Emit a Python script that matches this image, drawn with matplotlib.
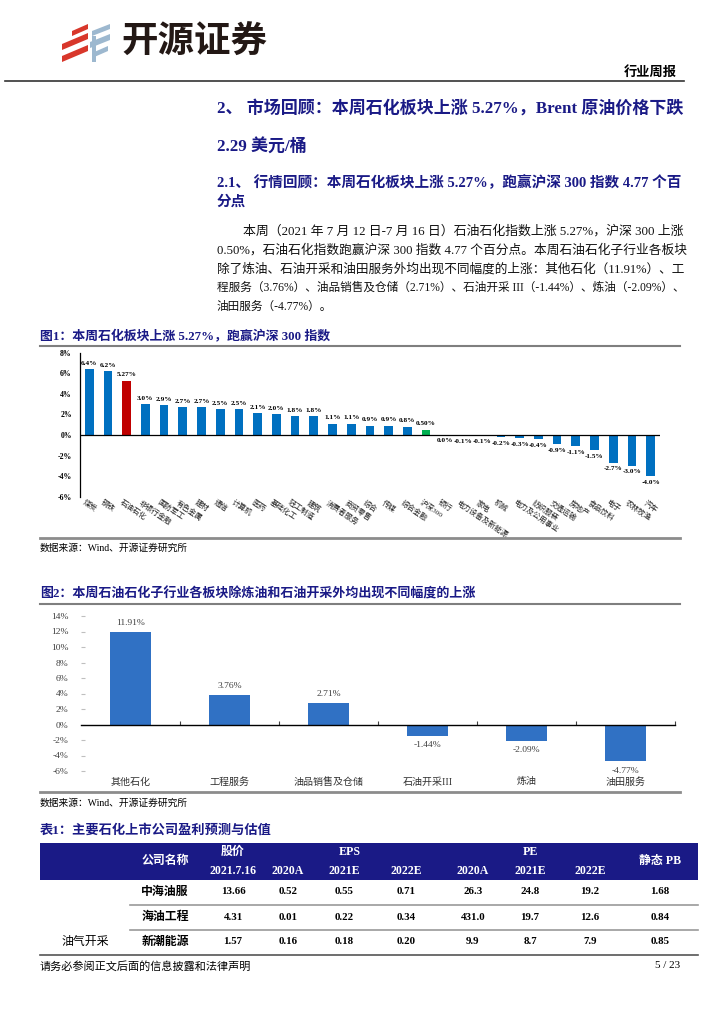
import matplotlib.pyplot as plt
from matplotlib.patches import Polygon, Rectangle

plt.rcParams['font.family'] = ['Liberation Serif', 'Noto Sans CJK SC']
plt.rcParams['axes.unicode_minus'] = False

# ---- chart 1: CITIC industries weekly change ----
ind_names = ['煤炭', '钢铁', '石油石化', '非银行金融', '国防军工', '有色金属', '建材', '通信',
             '计算机', '医药', '基础化工', '轻工制造', '建筑', '消费者服务', '商贸零售', '综合',
             '传媒', '综合金融', '沪深300', '银行', '电力设备及新能源', '家电', '机械',
             '电力及公用事业', '纺织服装', '交通运输', '房地产', '食品饮料', '电子', '农林牧渔', '汽车']
ind_chg = [6.4, 6.2, 5.27, 3.0, 2.9, 2.7, 2.7, 2.5, 2.5, 2.1, 2.0, 1.8, 1.8, 1.1, 1.1, 0.9,
           0.9, 0.8, 0.50, 0.0, -0.1, -0.1, -0.2, -0.3, -0.4, -0.9, -1.1, -1.5, -2.7, -3.0, -4.0]
ind_lbl = ['6.4%', '6.2%', '5.27%', '3.0%', '2.9%', '2.7%', '2.7%', '2.5%', '2.5%', '2.1%',
           '2.0%', '1.8%', '1.8%', '1.1%', '1.1%', '0.9%', '0.9%', '0.8%', '0.50%', '0.0%',
           '-0.1%', '-0.1%', '-0.2%', '-0.3%', '-0.4%', '-0.9%', '-1.1%', '-1.5%', '-2.7%',
           '-3.0%', '-4.0%']

# ---- chart 2: sub-sectors ----
sub_names = ['其他石化', '工程服务', '油品销售及仓储', '石油开采III', '炼油', '油田服务']
sub_chg = [11.91, 3.76, 2.71, -1.44, -2.09, -4.77]

# ---- table ----
companies = ['中海油服', '海油工程', '新潮能源']
price = ['13.66', '4.31', '1.57']
eps20 = ['0.52', '0.01', '0.16']
eps21 = ['0.55', '0.22', '0.18']
eps22 = ['0.71', '0.34', '0.20']
pe20 = ['26.3', '431.0', '9.9']
pe21 = ['24.8', '19.7', '8.7']
pe22 = ['19.2', '12.6', '7.9']
pb = ['1.68', '0.84', '0.85']

W, H = 724, 1024
NAVY = '#1a1a86'
fig = plt.figure(figsize=(W / 100, H / 100), dpi=100)
P = fig.add_axes([0, 0, 1, 1])
P.set_xlim(0, W)
P.set_ylim(H, 0)
P.axis('off')
r = fig.canvas.get_renderer()


def fit(x0, x1, y, s, size, **kw):
    t = P.text(x0, y, s, fontsize=size, ha='left', va='center', **kw)
    w = t.get_window_extent(renderer=r).width
    t.set_fontsize(size * (x1 - x0) / w)
    return t


# logo
for pts in [[(72, 31), (88, 24), (88, 29), (72, 36)],
            [(62, 44), (88, 33), (88, 39), (62, 50)],
            [(62, 56), (88, 45), (88, 51), (62, 62)]]:
    P.add_patch(Polygon(pts, closed=True, color='#d8372b', lw=0))
for pts in [[(92, 31), (110, 24), (110, 29), (92, 36)],
            [(90, 42), (110, 34), (110, 40), (90, 48)],
            [(92, 53), (108, 46), (108, 51), (92, 58)],
            [(92, 36), (96, 36), (96, 62), (92, 62)]]:
    P.add_patch(Polygon(pts, closed=True, color='#9db8cf', lw=0))
fit(121, 267, 44, '开源证券', 26, fontweight='bold', color='#231815')
P.text(677, 73, '行业周报', fontsize=9.5, fontweight='bold', ha='right', va='center')
P.plot([5, 684], [80.5, 80.5], color='#333333', lw=1.2)

# headings
t = fit(217, 684, 108, '2、 市场回顾：本周石化板块上涨 5.27%，Brent 原油价格下跌', 10.5,
        fontweight='bold', color=NAVY)
P.text(217, 146, '2.29 美元/桶', fontsize=t.get_fontsize(), fontweight='bold', color=NAVY,
       ha='left', va='center')
t = fit(217, 684, 183, '2.1、 行情回顾：本周石化板块上涨 5.27%，跑赢沪深 300 指数 4.77 个百', 9.5,
        fontweight='bold', color=NAVY)
P.text(217, 202, '分点', fontsize=t.get_fontsize(), fontweight='bold', color=NAVY,
       ha='left', va='center')

body = ['本周（2021 年 7 月 12 日-7 月 16 日）石油石化指数上涨 5.27%，沪深 300 上涨',
        '0.50%，石油石化指数跑赢沪深 300 指数 4.77 个百分点。本周石油石化子行业各板块',
        '除了炼油、石油开采和油田服务外均出现不同幅度的上涨：其他石化（11.91%）、工',
        '程服务（3.76%）、油品销售及仓储（2.71%）、石油开采 III（-1.44%）、炼油（-2.09%）、']
for k, s in enumerate(body):
    t = fit(243 if k == 0 else 217, 684, 231 + 19 * k, s, 8.3, color='#111111')
P.text(217, 307, '油田服务（-4.77%）。', fontsize=t.get_fontsize(), color='#111111',
       ha='left', va='center')

# chart 1
fit(40, 330, 336, '图1：本周石化板块上涨 5.27%，跑赢沪深 300 指数', 8.5, fontweight='bold', color=NAVY)
P.plot([40, 680], [346, 346], color='#7f7f7f', lw=1.5)
P.plot([40, 680], [538, 538], color='#8c8c8c', lw=2)
P.text(40, 548, '数据来源：Wind、开源证券研究所', fontsize=7, ha='left', va='center')

ax1 = fig.add_axes([79.5 / W, 1 - 496.7 / H, (660 - 79.5) / W, 144 / H])
ax1.patch.set_alpha(0)
c1 = ['#c00000' if n == '石油石化' else '#00b050' if n == '沪深300' else '#0070c0'
      for n in ind_names]
x1 = list(range(len(ind_names)))
ax1.bar(x1, ind_chg, width=0.47, color=c1)
ax1.set_xlim(-0.52, 30.5)
ax1.set_ylim(-6, 8)
ax1.axhline(0, color='black', lw=0.9)
for s in ['top', 'right', 'bottom']:
    ax1.spines[s].set_visible(False)
ax1.spines['left'].set_linewidth(0.9)
ax1.set_xticks([])
yt1 = list(range(-6, 9, 2))
ax1.set_yticks(yt1)
ax1.set_yticklabels([f'{v}%' for v in yt1], fontsize=5.6, fontweight='bold')
ax1.tick_params(axis='y', length=0, pad=5.5)
for i, (v, l) in enumerate(zip(ind_chg, ind_lbl)):
    up = v > 0
    ax1.annotate(l, (i, v), xytext=(0, 2.5 if up else -2.5), textcoords='offset points',
                 ha='center', va='bottom' if up else 'top', fontsize=5.2, fontweight='bold')
    ax1.text(i - 0.2, -6.15, ind_names[i], rotation=-34, rotation_mode='anchor',
             ha='left', va='top', fontsize=5.4, color='#222222')

# chart 2
fit(40, 473, 594, '图2：本周石油石化子行业各板块除炼油和石油开采外均出现不同幅度的上涨', 8.5,
    fontweight='bold', color=NAVY)
P.plot([40, 680], [603.5, 603.5], color='#7f7f7f', lw=1.5)
P.plot([40, 680], [792, 792], color='#8c8c8c', lw=2)
P.text(40, 803, '数据来源：Wind、开源证券研究所', fontsize=7, ha='left', va='center')

ax2 = fig.add_axes([81 / W, 1 - 771 / H, 594 / W, 155 / H])
ax2.patch.set_alpha(0)
ax2.bar(range(len(sub_names)), sub_chg, width=0.42, color='#3071c4')
ax2.set_xlim(-0.5, 5.5)
ax2.set_ylim(-6, 14)
for s in ['top', 'right', 'left']:
    ax2.spines[s].set_visible(False)
ax2.spines['bottom'].set_position(('data', 0))
ax2.spines['bottom'].set_linewidth(1.0)
ax2.set_xticks([i + 0.5 for i in range(len(sub_names))])
ax2.set_xticklabels([])
ax2.tick_params(axis='x', direction='in', length=3, color='#404040')
yt2 = list(range(-6, 15, 2))
ax2.set_yticks(yt2)
ax2.set_yticklabels([f'{v}%' for v in yt2])
ax2.tick_params(axis='y', direction='in', length=3, color='#bfbfbf', pad=9,
                labelsize=6.8, labelcolor='#404040')
for i, v in enumerate(sub_chg):
    up = v > 0
    ax2.annotate(f'{v:.2f}%', (i, v), xytext=(0, 4 if up else -4), textcoords='offset points',
                 ha='center', va='bottom' if up else 'top', fontsize=6.8, color='#404040')
    ax2.text(i, -7.4, sub_names[i], ha='center', va='center', fontsize=7.2, color='#333333')

# table
fit(40, 270, 830, '表1：主要石化上市公司盈利预测与估值', 8.5, fontweight='bold', color=NAVY)
P.add_patch(Rectangle((40, 843), 658, 37, color=NAVY, lw=0))
hk = dict(color='white', fontweight='bold', ha='center', va='center', fontsize=8.6)
P.text(165, 861, '公司名称', **hk)
P.text(233, 852, '股价', **hk)
P.text(350, 852, 'EPS', **hk)
P.text(530, 852, 'PE', **hk)
P.text(660, 861, '静态 PB', **hk)
cols = [233, 288, 344, 406, 473, 530, 590, 660]
for cx, s in zip(cols[:-1], ['2021.7.16', '2020A', '2021E', '2022E', '2020A', '2021E', '2022E']):
    P.text(cx, 871, s, **hk)
rows_y = [892, 917, 942]
for k, y in enumerate(rows_y):
    P.text(165, y, companies[k], fontsize=8.6, fontweight='bold', ha='center', va='center')
    vals = [price[k], eps20[k], eps21[k], eps22[k], pe20[k], pe21[k], pe22[k], pb[k]]
    for cx, s in zip(cols, vals):
        P.text(cx, y, s, fontsize=7.8, fontweight='bold', ha='center', va='center')
for y in [905, 930]:
    P.plot([130, 698], [y, y], color='#9a9a9a', lw=1.2)
P.text(85, 942, '油气开采', fontsize=8.6, ha='center', va='center')

# footer / table bottom
P.plot([40, 698], [955, 955], color='#555555', lw=1.2)
P.text(40, 966, '请务必参阅正文后面的信息披露和法律声明', fontsize=8, ha='left', va='center')
P.text(680, 966, '5 / 23', fontsize=8, ha='right', va='center')

fig.savefig('out.png', dpi=100)
